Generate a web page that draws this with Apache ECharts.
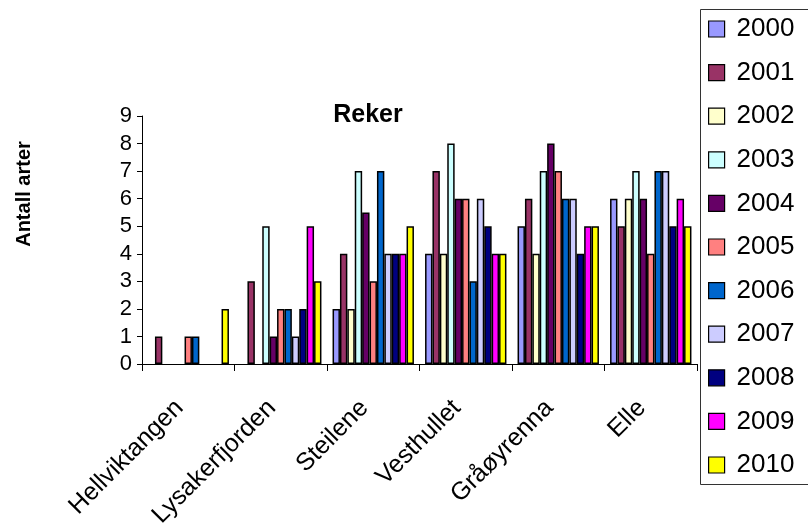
<!DOCTYPE html>
<html>
<head>
<meta charset="utf-8">
<script src="https://cdn.jsdelivr.net/npm/echarts@6/dist/echarts.min.js"></script>
<style>html,body{margin:0;padding:0;background:#fff}#c{width:808px;height:523px}</style>
</head>
<body>
<div id="c"></div>
<script>
const categories = ['Hellviktangen','Lysakerfjorden','Steilene','Vesthullet','Gråøyrenna','Elle'];
const years = ['2000','2001','2002','2003','2004','2005','2006','2007','2008','2009','2010'];
const colors = ['#9999FF','#993366','#FFFFCC','#CCFFFF','#660066','#FF8080','#0066CC','#CCCCFF','#000080','#FF00FF','#FFFF00'];
const v2000 = [null, null, 2, 4, 5, 6];
const v2001 = [1, 3, 4, 7, 6, 5];
const v2002 = [null, null, 2, 4, 4, 6];
const v2003 = [null, 5, 7, 8, 7, 7];
const v2004 = [null, 1, 5.5, 6, 8, 6];
const v2005 = [1, 2, 3, 6, 7, 4];
const v2006 = [1, 2, 7, 3, 6, 7];
const v2007 = [null, 1, 4, 6, 6, 7];
const v2008 = [null, 2, 4, 5, 4, 5];
const v2009 = [null, 5, 4, 4, 5, 6];
const v2010 = [2, 3, 5, 4, 5, 5];
const seriesValues = [v2000,v2001,v2002,v2003,v2004,v2005,v2006,v2007,v2008,v2009,v2010];
const yTicks = [0,1,2,3,4,5,6,7,8,9];

const chart = echarts.init(document.getElementById('c'), null, {renderer:'canvas'});
const FONT = 'Liberation Sans, Arial, sans-serif';
chart.setOption({
  animation: false,
  color: colors,
  title: {
    text: 'Reker', left: 368, top: 103, textAlign: 'center', padding: 0,
    textStyle: {fontFamily: FONT, fontWeight: 'bold', fontSize: 25, color: '#000'}
  },
  graphic: [{
    type: 'rect', left: 698, top: 7,
    shape: {width: 108, height: 475},
    style: {fill: 'none', stroke: '#333', lineWidth: 1}, z: 0
  }, {
    type: 'text', x: 24, y: 194, rotation: Math.PI / 2,
    style: {text: 'Antall arter', fontFamily: FONT, fontWeight: 'bold', fontSize: 20,
      fill: '#000', align: 'center', verticalAlign: 'middle'}
  }],
  legend: {
    orient: 'vertical', left: 708, top: 16, padding: 0,
    itemWidth: 16, itemHeight: 16, itemGap: 17.6,
    icon: 'rect',
    data: years,
    itemStyle: {borderColor: '#000', borderWidth: 1.2},
    textStyle: {fontFamily: FONT, fontSize: 26, color: '#000', padding: [0,0,0,7]}
  },
  grid: {left: 142, right: 111, top: 116, bottom: 159, containLabel: false, outerBoundsMode: 'none'},
  xAxis: {
    type: 'category', data: categories,
    axisLine: {lineStyle: {color: '#000', width: 1}},
    axisTick: {show: true, length: 7, lineStyle: {color: '#000'}},
    axisLabel: {rotate: 45, margin: 49, align: 'right', verticalAlign: 'bottom',
      fontFamily: FONT, fontSize: 25, color: '#000', interval: 0}
  },
  yAxis: {
    type: 'value', min: 0, max: 9, interval: 1,
    axisLine: {show: true, lineStyle: {color: '#000', width: 1}},
    axisTick: {show: true, length: 5, lineStyle: {color: '#000'}},
    splitLine: {show: false},
    axisLabel: {margin: 10, fontFamily: FONT, fontSize: 22, color: '#000',
      formatter: v => yTicks.includes(v) ? String(v) : ''}
  },
  series: years.map((y, i) => ({
    name: y, type: 'bar', data: seriesValues[i],
    barGap: '0%', barCategoryGap: '12%',
    itemStyle: {color: colors[i], borderColor: '#000', borderWidth: 1.5}
  }))
});
</script>
</body>
</html>
